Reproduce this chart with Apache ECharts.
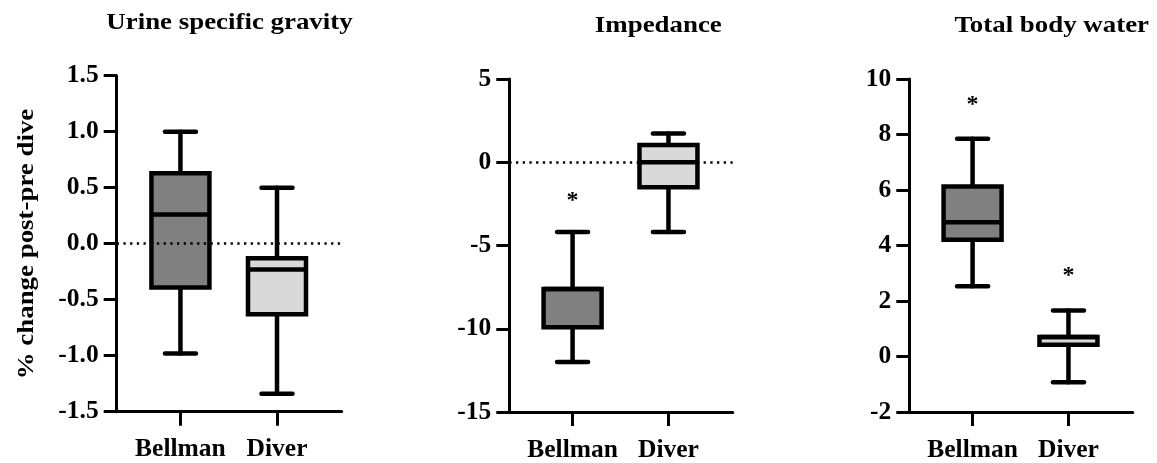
<!DOCTYPE html>
<html><head><meta charset="utf-8">
<script src="https://cdn.jsdelivr.net/npm/echarts@6/dist/echarts.min.js"></script>
<style>html,body{margin:0;padding:0;background:#fff}#c{width:1157px;height:463px}</style>
</head><body><div id="c"></div>
<script>
// ---- data ----
const categories = ['Bellman', 'Diver'];
const titles = ['Urine specific gravity', 'Impedance', 'Total body water'];
const yAxisTitle = '% change post-pre dive';
// [min, Q1, median, Q3, max]
const usgBellman = [-0.98, -0.39, 0.26, 0.63, 1.00];
const usgDiver   = [-1.34, -0.63, -0.23, -0.13, 0.50];
const impBellman = [-12.0, -9.91, -7.62, -7.62, -4.19];
const impDiver   = [-4.19, -1.50, 0.00, 1.03, 1.73];
const tbwBellman = [2.53, 4.21, 4.84, 6.13, 7.85];
const tbwDiver   = [-0.93, 0.42, 0.70, 0.70, 1.66];
// significance markers (y value where "*" sits; null = none)
const usgStars = [null, null];
const impStars = [-2.05, null];
const tbwStars = [9.2, 3.05];
// y tick settings
const usgTicks = {min: -1.5, max: 1.5, interval: 0.5, decimals: 1};
const impTicks = {min: -15, max: 5, interval: 5, decimals: 0};
const tbwTicks = {min: -2, max: 10, interval: 2, decimals: 0};
const zeroLine = [true, true, false];

// ---- build ----
const FONT = 'Liberation Serif';
const fills = ['#808080', '#d9d9d9'];
const panels = [
  {box: [usgBellman, usgDiver], stars: usgStars, ticks: usgTicks, grid: {left: 116.7, top: 75.7, width: 225, height: 336}},
  {box: [impBellman, impDiver], stars: impStars, ticks: impTicks, grid: {left: 509.3, top: 79, width: 223.4, height: 334.3}},
  {box: [tbwBellman, tbwDiver], stars: tbwStars, ticks: tbwTicks, grid: {left: 909.3, top: 79, width: 223.4, height: 334.3}}
];

function renderBox(params, api) {
  const x = api.value(0);
  const v = [1, 2, 3, 4, 5].map(i => api.value(i));
  const pMin = api.coord([x, v[0]]);
  const pQ1 = api.coord([x, v[1]]);
  const pMed = api.coord([x, v[2]]);
  const pQ3 = api.coord([x, v[3]]);
  const pMax = api.coord([x, v[4]]);
  const cx = pMin[0];
  const hw = 29, cw = 15.5, lw = 4.5;
  const st = {stroke: '#000', lineWidth: lw, lineCap: 'round'};
  const children = [
    {type: 'line', shape: {x1: cx, y1: pMin[1], x2: cx, y2: pMax[1]}, style: st},
    {type: 'line', shape: {x1: cx - cw, y1: pMin[1], x2: cx + cw, y2: pMin[1]}, style: st},
    {type: 'line', shape: {x1: cx - cw, y1: pMax[1], x2: cx + cw, y2: pMax[1]}, style: st},
    {type: 'rect', shape: {x: cx - hw, y: pQ3[1], width: 2 * hw, height: pQ1[1] - pQ3[1]},
      style: {fill: fills[params.dataIndex], stroke: '#000', lineWidth: lw}},
    {type: 'line', shape: {x1: cx - hw, y1: pMed[1], x2: cx + hw, y2: pMed[1]}, style: {stroke: '#000', lineWidth: lw}}
  ];
  const s = api.value(6);
  if (s !== null && isFinite(s)) {
    const ps = api.coord([x, s]);
    children.push({type: 'text', x: ps[0], y: ps[1] + 4,
      style: {text: '*', fontFamily: FONT, fontWeight: 'bold', fontSize: 24, fill: '#000', align: 'center', verticalAlign: 'middle'}});
  }
  return {type: 'group', children};
}

const grids = [], xAxes = [], yAxes = [], series = [], graphics = [];
panels.forEach((p, i) => {
  grids.push(Object.assign({containLabel: false}, p.grid));
  xAxes.push({
    type: 'value', gridIndex: i, min: -0.66, max: 1.67,
    axisLine: {show: true, onZero: false, lineStyle: {color: '#000', width: 3}},
    axisTick: {show: true, customValues: [0, 1], length: 14, lineStyle: {color: '#000', width: 3}},
    axisLabel: {show: true, customValues: [0, 1], margin: 25, formatter: v => categories[Math.round(v)],
      fontFamily: FONT, fontWeight: 'bold', fontSize: 25.5, color: '#000'},
    splitLine: {show: false}
  });
  yAxes.push({
    type: 'value', gridIndex: i, min: p.ticks.min, max: p.ticks.max, interval: p.ticks.interval,
    axisLine: {show: true, onZero: false, lineStyle: {color: '#000', width: 3}},
    axisTick: {show: true, length: 13, lineStyle: {color: '#000', width: 3}},
    axisLabel: {margin: 18, formatter: v => v.toFixed(p.ticks.decimals),
      fontFamily: FONT, fontWeight: 'bold', fontSize: 25.5, color: '#000'},
    splitLine: {show: false}
  });
  const s = {
    type: 'custom', xAxisIndex: i, yAxisIndex: i, renderItem: renderBox,
    encode: {x: 0, y: [1, 2, 3, 4, 5]},
    data: p.box.map((b, k) => [k].concat(b, [p.stars[k] === null ? NaN : p.stars[k]])),
    clip: false
  };
  if (zeroLine[i]) {
    s.markLine = {silent: true, symbol: ['none', 'none'], label: {show: false},
      lineStyle: {type: [2.3, 4.4], width: 2.5, color: '#000'},
      data: [{yAxis: 0}]};
  }
  series.push(s);
});

const titlePos = [[229.5, 23], [658.3, 26], [1051.7, 26]];
titles.forEach((t, i) => {
  graphics.push({type: 'text', x: titlePos[i][0], y: titlePos[i][1], scaleX: 1.12,
    style: {text: t, fontFamily: FONT, fontWeight: 'bold', fontSize: 24, fill: '#000', align: 'center', verticalAlign: 'middle'}});
});
graphics.push({type: 'text', x: 27, y: 244, rotation: Math.PI / 2, scaleX: 1.12,
  style: {text: yAxisTitle, fontFamily: FONT, fontWeight: 'bold', fontSize: 24, fill: '#000', align: 'center', verticalAlign: 'middle'}});

const chart = echarts.init(document.getElementById('c'), null, {renderer: 'canvas'});
chart.setOption({
  animation: false, backgroundColor: '#fff',
  grid: grids, xAxis: xAxes, yAxis: yAxes, series: series, graphic: graphics
});
</script></body></html>
